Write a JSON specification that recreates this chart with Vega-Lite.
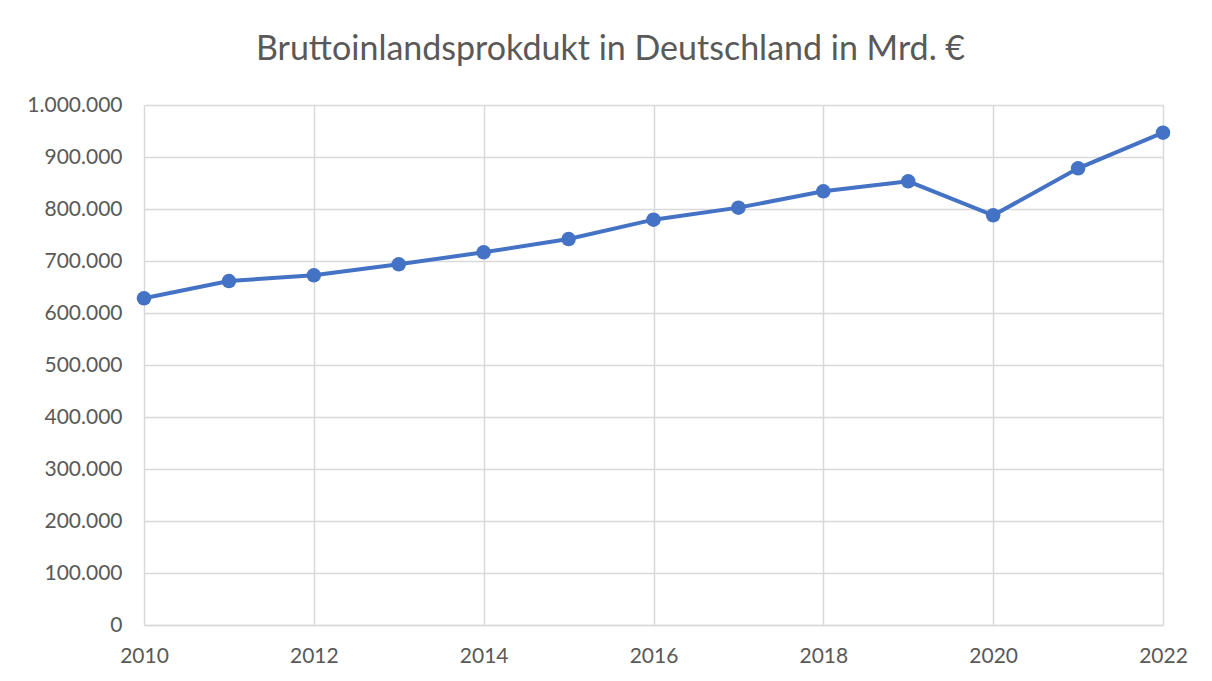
{
  "$schema": "https://vega.github.io/schema/vega-lite/v6.json",
  "width": 1019,
  "height": 520,
  "autosize": {"type": "none"},
  "padding": {"left": 144, "top": 105, "right": 49, "bottom": 56},
  "background": "white",
  "config": {
    "locale": {"number": {"decimal": ",", "thousands": ".", "grouping": [3], "currency": ["", " €"]}},
    "view": {"stroke": null},
    "font": "Lato"
  },
  "title": {
    "text": "Bruttoinlandsprokdukt in Deutschland in Mrd. €",
    "fontSize": 34,
    "font": "Lato",
    "fontWeight": "normal",
    "color": "#595959",
    "anchor": "middle",
    "frame": "group",
    "dx": -43,
    "offset": 27
  },
  "data": {
    "values": [
      {"Jahr": 2010, "BIP": 628300},
      {"Jahr": 2011, "BIP": 661500},
      {"Jahr": 2012, "BIP": 672500},
      {"Jahr": 2013, "BIP": 693600},
      {"Jahr": 2014, "BIP": 716700},
      {"Jahr": 2015, "BIP": 742300},
      {"Jahr": 2016, "BIP": 779500},
      {"Jahr": 2017, "BIP": 802600},
      {"Jahr": 2018, "BIP": 834000},
      {"Jahr": 2019, "BIP": 853200},
      {"Jahr": 2020, "BIP": 787800},
      {"Jahr": 2021, "BIP": 878200},
      {"Jahr": 2022, "BIP": 946800}
    ]
  },
  "encoding": {
    "x": {
      "field": "Jahr",
      "type": "quantitative",
      "scale": {"domain": [2010, 2022], "nice": false, "zero": false},
      "axis": {
        "title": null,
        "values": [2010, 2012, 2014, 2016, 2018, 2020, 2022],
        "format": "d",
        "labelFontSize": 21,
        "labelColor": "#595959",
        "labelPadding": 20,
        "ticks": false,
        "domainColor": "#d9d9d9",
        "domainWidth": 1.5,
        "gridColor": "#d9d9d9",
        "gridWidth": 1.5,
        "labelFlush": false
      }
    },
    "y": {
      "field": "BIP",
      "type": "quantitative",
      "scale": {"domain": [0, 1000000], "nice": false},
      "axis": {
        "title": null,
        "values": [0, 100000, 200000, 300000, 400000, 500000, 600000, 700000, 800000, 900000, 1000000],
        "format": ",d",
        "labelFontSize": 21,
        "labelColor": "#595959",
        "labelPadding": 22,
        "ticks": false,
        "domain": false,
        "gridColor": "#d9d9d9",
        "gridWidth": 1.5
      }
    }
  },
  "layer": [
    {"mark": {"type": "line", "color": "#4472C4", "strokeWidth": 4}},
    {"mark": {"type": "point", "filled": true, "opacity": 1, "color": "#4472C4", "size": 210}}
  ]
}
